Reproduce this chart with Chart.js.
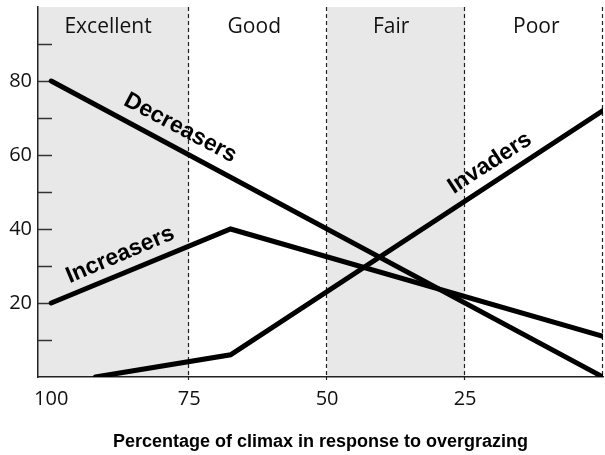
<!DOCTYPE html>
<html>
<head>
<meta charset="utf-8">
<script src="https://cdn.jsdelivr.net/npm/chart.js@4.4.0/dist/chart.umd.min.js"></script>
<style>
html, body { margin: 0; padding: 0; background: #fff; }
#wrap { position: relative; width: 605px; height: 455px; }
</style>
</head>
<body>
<div id="wrap"><canvas id="c"></canvas></div>
<script>
// Range condition classes along the x axis (percent of climax, reversed)
const zoneNames = ['Excellent', 'Good', 'Fair', 'Poor'];
const zoneEdges = [102.4, 75, 50, 25, 0];
const zoneShaded = [true, false, true, false];

const xTicks = [100, 75, 50, 25];
const yTicks = [20, 40, 60, 80];
const yTickMarks = [10, 20, 30, 40, 50, 60, 70, 80, 90];

// Plant groups
const decreasersX = [100, 0];
const decreasersY = [80, 0];
const increasersX = [100, 67.5, 0];
const increasersY = [20, 40, 11];
const invadersX = [92, 67.5, 0];
const invadersY = [0, 6, 72];

const toPts = (xs, ys) => xs.map((x, i) => ({ x: x, y: ys[i] }));

const lineStyle = {
    borderColor: '#000',
    borderWidth: 5,
    pointRadius: 0,
    fill: false,
    tension: 0,
    borderCapStyle: 'round',
    borderJoinStyle: 'miter'
};

// where the zone names sit along x (data units)
const zoneLabelAt = [89.7, 63.2, 38.4, 12.1];

// labels written along the curves (anchor in data units, angle in degrees)
const curveLabels = [
    { text: 'Decreasers', x: 76.6, y: 67.3, angle: 28 },
    { text: 'Increasers', x: 87.5, y: 33, angle: -23 },
    { text: 'Invaders', x: 20.5, y: 57.8, angle: -33 }
];

const zonesPlugin = {
    id: 'zones',
    beforeDraw(chart) {
        const { ctx, chartArea, scales: { x } } = chart;
        ctx.save();
        ctx.fillStyle = '#e8e8e8';
        zoneShaded.forEach((on, i) => {
            if (!on) return;
            const a = x.getPixelForValue(zoneEdges[i]);
            const b = x.getPixelForValue(zoneEdges[i + 1]);
            ctx.fillRect(a, chartArea.top, b - a, chartArea.bottom - chartArea.top);
        });
        ctx.restore();
    },
    beforeDatasetsDraw(chart) {
        const { ctx, chartArea, scales: { x, y } } = chart;
        ctx.save();
        // dashed boundaries
        ctx.strokeStyle = '#222';
        ctx.lineWidth = 1.2;
        ctx.setLineDash([4, 3]);
        zoneEdges.slice(1).forEach(v => {
            const px = Math.round(x.getPixelForValue(v)) - 0.5;
            ctx.beginPath();
            ctx.moveTo(px, chartArea.top);
            ctx.lineTo(px, chartArea.bottom);
            ctx.stroke();
        });
        ctx.setLineDash([]);
        // short marks below the x axis at the zone boundaries
        zoneEdges.slice(1, 4).forEach(v => {
            const px = Math.round(x.getPixelForValue(v)) - 0.5;
            ctx.beginPath();
            ctx.moveTo(px, chartArea.bottom);
            ctx.lineTo(px, chartArea.bottom + 3);
            ctx.stroke();
        });
        // inward tick marks on the y axis
        ctx.strokeStyle = '#333';
        ctx.lineWidth = 1.5;
        yTickMarks.forEach(v => {
            const py = Math.round(y.getPixelForValue(v)) + 0.5;
            ctx.beginPath();
            ctx.moveTo(chartArea.left, py);
            ctx.lineTo(chartArea.left + 14, py);
            ctx.stroke();
        });
        // zone names
        ctx.fillStyle = '#111';
        ctx.font = '21px "Open Sans"';
        ctx.textAlign = 'center';
        ctx.textBaseline = 'middle';
        zoneNames.forEach((name, i) => {
            ctx.fillText(name, x.getPixelForValue(zoneLabelAt[i]), chartArea.top + 20);
        });
        ctx.restore();
    },
    afterDatasetsDraw(chart) {
        const { ctx, scales: { x, y } } = chart;
        ctx.save();
        ctx.fillStyle = '#000';
        ctx.font = 'bold 23px "Liberation Sans", Arial, sans-serif';
        ctx.textAlign = 'center';
        ctx.textBaseline = 'middle';
        curveLabels.forEach(l => {
            ctx.save();
            ctx.translate(x.getPixelForValue(l.x), y.getPixelForValue(l.y));
            ctx.rotate(l.angle * Math.PI / 180);
            ctx.fillText(l.text, 0, 0);
            ctx.restore();
        });
        ctx.restore();
    }
};

new Chart(document.getElementById('c'), {
    type: 'line',
    data: {
        datasets: [
            Object.assign({ label: 'Decreasers', data: toPts(decreasersX, decreasersY) }, lineStyle),
            Object.assign({ label: 'Increasers', data: toPts(increasersX, increasersY) }, lineStyle),
            Object.assign({ label: 'Invaders', data: toPts(invadersX, invadersY) }, lineStyle)
        ]
    },
    plugins: [zonesPlugin],
    options: {
        responsive: true,
        maintainAspectRatio: false,
        animation: false,
        layout: { padding: { top: 7, right: 2, left: 0, bottom: 0 } },
        plugins: {
            legend: { display: false },
            tooltip: { enabled: false }
        },
        scales: {
            x: {
                type: 'linear',
                reverse: true,
                min: 0,
                max: zoneEdges[0],
                afterBuildTicks: s => { s.ticks = xTicks.map(v => ({ value: v })); },
                ticks: {
                    font: { family: 'Open Sans', size: 20 },
                    color: '#111',
                    padding: 10,
                    maxRotation: 0,
                    autoSkip: false
                },
                grid: { display: false, drawTicks: false },
                border: { display: true, color: '#222', width: 1.5 },
                title: {
                    display: true,
                    text: 'Percentage of climax in response to overgrazing',
                    font: { family: 'Liberation Sans', weight: 'bold', size: 18 },
                    color: '#000',
                    padding: { top: 0, bottom: 2 }
                },
                afterFit: s => { s.height = 78; s.paddingLeft = 0; s.paddingRight = 0; }
            },
            y: {
                min: 0,
                max: 100,
                afterBuildTicks: s => { s.ticks = yTicks.map(v => ({ value: v })); },
                ticks: {
                    font: { family: 'Open Sans', size: 20 },
                    color: '#111',
                    padding: 6
                },
                grid: { display: false, drawTicks: false },
                border: { display: true, color: '#222', width: 1.5 },
                afterFit: s => { s.width = 38; s.paddingTop = 0; s.paddingBottom = 0; }
            }
        }
    }
});
</script>
</body>
</html>
